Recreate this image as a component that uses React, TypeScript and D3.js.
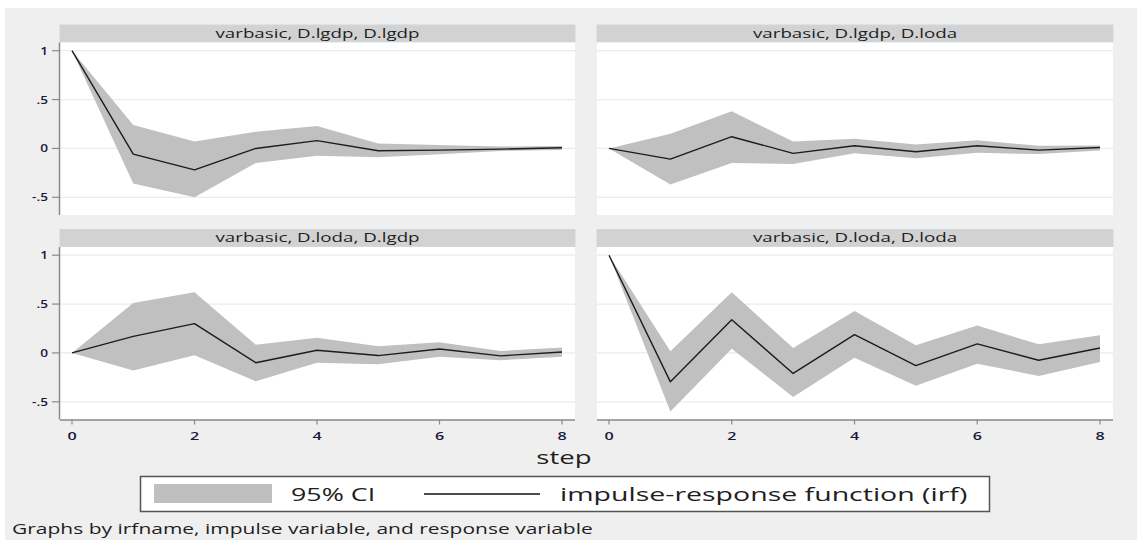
import React from 'react';
import * as d3 from 'd3';

// impulse-response steps and axis ticks
const steps = [0, 1, 2, 3, 4, 5, 6, 7, 8];
const xTicks = [0, 2, 4, 6, 8];
const yTicks = [-0.5, 0, 0.5, 1];
const yTickLabels = ['-.5', '0', '.5', '1'];

const panelTitles = [
  'varbasic, D.lgdp, D.lgdp',
  'varbasic, D.lgdp, D.loda',
  'varbasic, D.loda, D.lgdp',
  'varbasic, D.loda, D.loda',
];

// irf and 95% CI bounds
const irfLgdpLgdp = [1, -0.058, -0.22, 0.0, 0.08, -0.024, -0.017, -0.007, 0.007];
const loLgdpLgdp = [1, -0.36, -0.5, -0.15, -0.075, -0.09, -0.06, -0.025, -0.015];
const hiLgdpLgdp = [1, 0.24, 0.07, 0.17, 0.23, 0.05, 0.035, 0.02, 0.025];

const irfLgdpLoda = [0, -0.11, 0.12, -0.05, 0.027, -0.034, 0.027, -0.017, 0.01];
const loLgdpLoda = [0, -0.37, -0.15, -0.16, -0.05, -0.1, -0.045, -0.058, -0.02];
const hiLgdpLoda = [0, 0.15, 0.38, 0.07, 0.1, 0.04, 0.085, 0.027, 0.03];

const irfLodaLgdp = [0, 0.17, 0.3, -0.1, 0.027, -0.027, 0.04, -0.03, 0.01];
const loLodaLgdp = [0, -0.18, -0.024, -0.29, -0.1, -0.115, -0.04, -0.075, -0.04];
const hiLodaLgdp = [0, 0.51, 0.62, 0.085, 0.155, 0.068, 0.11, 0.02, 0.055];

const irfLodaLoda = [1, -0.296, 0.34, -0.21, 0.187, -0.13, 0.092, -0.075, 0.05];
const loLodaLoda = [1, -0.6, 0.044, -0.45, -0.05, -0.337, -0.11, -0.235, -0.092];
const hiLodaLoda = [1, 0.017, 0.62, 0.05, 0.43, 0.078, 0.28, 0.088, 0.18];

const legendLabels = ['95% CI', 'impulse-response function (irf)'];
const xTitle = 'step';
const note = 'Graphs by irfname, impulse variable, and response variable';

const W = 1137;
const H = 540;
const FONT = "'Open Sans', sans-serif";
const SX = 1.45; // the reference is stretched sideways

const cols = [
  { x0: 60, x1: 575 },
  { x0: 597, x1: 1113 },
];
const rows = [{ top: 25 }, { top: 229.5 }];

const panels = [
  { title: panelTitles[0], irf: irfLgdpLgdp, lo: loLgdpLgdp, hi: hiLgdpLgdp, c: 0, r: 0 },
  { title: panelTitles[1], irf: irfLgdpLoda, lo: loLgdpLoda, hi: hiLgdpLoda, c: 1, r: 0 },
  { title: panelTitles[2], irf: irfLodaLgdp, lo: loLodaLgdp, hi: hiLodaLgdp, c: 0, r: 1 },
  { title: panelTitles[3], irf: irfLodaLoda, lo: loLodaLoda, hi: hiLodaLoda, c: 1, r: 1 },
];

const Txt = ({ x, y, size, anchor = 'start', sx = SX, weight = 400, fill = '#1e1e1e', children }: any) => (
  <text
    transform={`translate(${x},${y}) scale(${sx},1)`}
    textAnchor={anchor}
    fontSize={size}
    fontFamily={FONT}
    fontWeight={weight}
    fill={fill}
  >
    {children}
  </text>
);

const Panel = ({ p }: any) => {
  const { x0, x1 } = cols[p.c];
  const top = rows[p.r].top;
  const titleBottom = top + 17;
  const plotTop = top + 17.5;
  const plotBottom = top + 190;

  const x = d3.scaleLinear().domain([0, 8]).range([x0 + 12, x1 - 13]);
  const y = d3.scaleLinear().domain([-0.5, 1]).range([top + 172.3, top + 25.7]);

  const band = d3
    .area<number>()
    .x((d) => x(d))
    .y0((d, i) => y(p.lo[i]))
    .y1((d, i) => y(p.hi[i]));
  const line = d3
    .line<number>()
    .x((d) => x(d))
    .y((d, i) => y(p.irf[i]));

  return (
    <g>
      <rect x={x0} y={top} width={x1 - x0} height={titleBottom - top} fill="#d2d2d2" stroke="#cbd8de" strokeWidth={1} />
      <Txt x={(x0 + x1) / 2} y={top + 12.8} size={12.5} anchor="middle" sx={1.5}>
        {p.title}
      </Txt>
      <rect x={x0} y={plotTop} width={x1 - x0} height={plotBottom - plotTop} fill="#fff" />
      {yTicks.map((t) => (
        <line key={t} x1={x0} x2={x1} y1={y(t)} y2={y(t)} stroke="#ebebeb" strokeWidth={1.2} />
      ))}
      <path d={band(steps) || ''} fill="#c0c0c0" />
      <path d={line(steps) || ''} fill="none" stroke="#1c1c1c" strokeWidth={1.4} strokeLinejoin="round" />
      {p.c === 0 && (
        <g>
          <line x1={x0 - 0.5} x2={x0 - 0.5} y1={plotTop} y2={plotBottom} stroke="#8a8a8a" strokeWidth={1.5} />
          {yTicks.map((t, i) => (
            <g key={t}>
              <line x1={x0 - 8} x2={x0 - 0.5} y1={y(t)} y2={y(t)} stroke="#8a8a8a" strokeWidth={1.2} />
              <Txt x={x0 - 12} y={y(t) + 4} size={10.5} anchor="end" sx={1.3} weight={600} fill="#1a1a3a">
                {yTickLabels[i]}
              </Txt>
            </g>
          ))}
        </g>
      )}
      {p.r === 1 && (
        <g>
          <line x1={x0} x2={x1} y1={plotBottom + 0.5} y2={plotBottom + 0.5} stroke="#8a8a8a" strokeWidth={1.5} />
          {xTicks.map((t) => (
            <g key={t}>
              <line x1={x(t)} x2={x(t)} y1={plotBottom} y2={plotBottom + 5} stroke="#8a8a8a" strokeWidth={1.2} />
              <Txt x={x(t)} y={plotBottom + 20.5} size={11.5} anchor="middle" sx={1.4} weight={600} fill="#1a1a3a">
                {t}
              </Txt>
            </g>
          ))}
        </g>
      )}
    </g>
  );
};

export default function App() {
  return (
    <svg width={W} height={H} style={{ position: 'absolute', left: 0, top: 0, background: '#fff' }}>
      <rect x={5} y={8} width={W - 5} height={H - 8} fill="#efefef" />
      {panels.map((p, i) => (
        <Panel key={i} p={p} />
      ))}
      <Txt x={564} y={464} size={19} anchor="middle">
        {xTitle}
      </Txt>
      <rect x={140.5} y={476.5} width={849} height={35} fill="#fff" stroke="#555" strokeWidth={1.5} />
      <rect x={154} y={484} width={118} height={19} fill="#bfbfbf" />
      <Txt x={291} y={500.5} size={18.5}>
        {legendLabels[0]}
      </Txt>
      <line x1={424} x2={540} y1={494} y2={494} stroke="#111" strokeWidth={1.5} />
      <Txt x={560} y={500.5} size={18.5} sx={1.54}>
        {legendLabels[1]}
      </Txt>
      <Txt x={12} y={534} size={15} sx={1.4}>
        {note}
      </Txt>
    </svg>
  );
}
